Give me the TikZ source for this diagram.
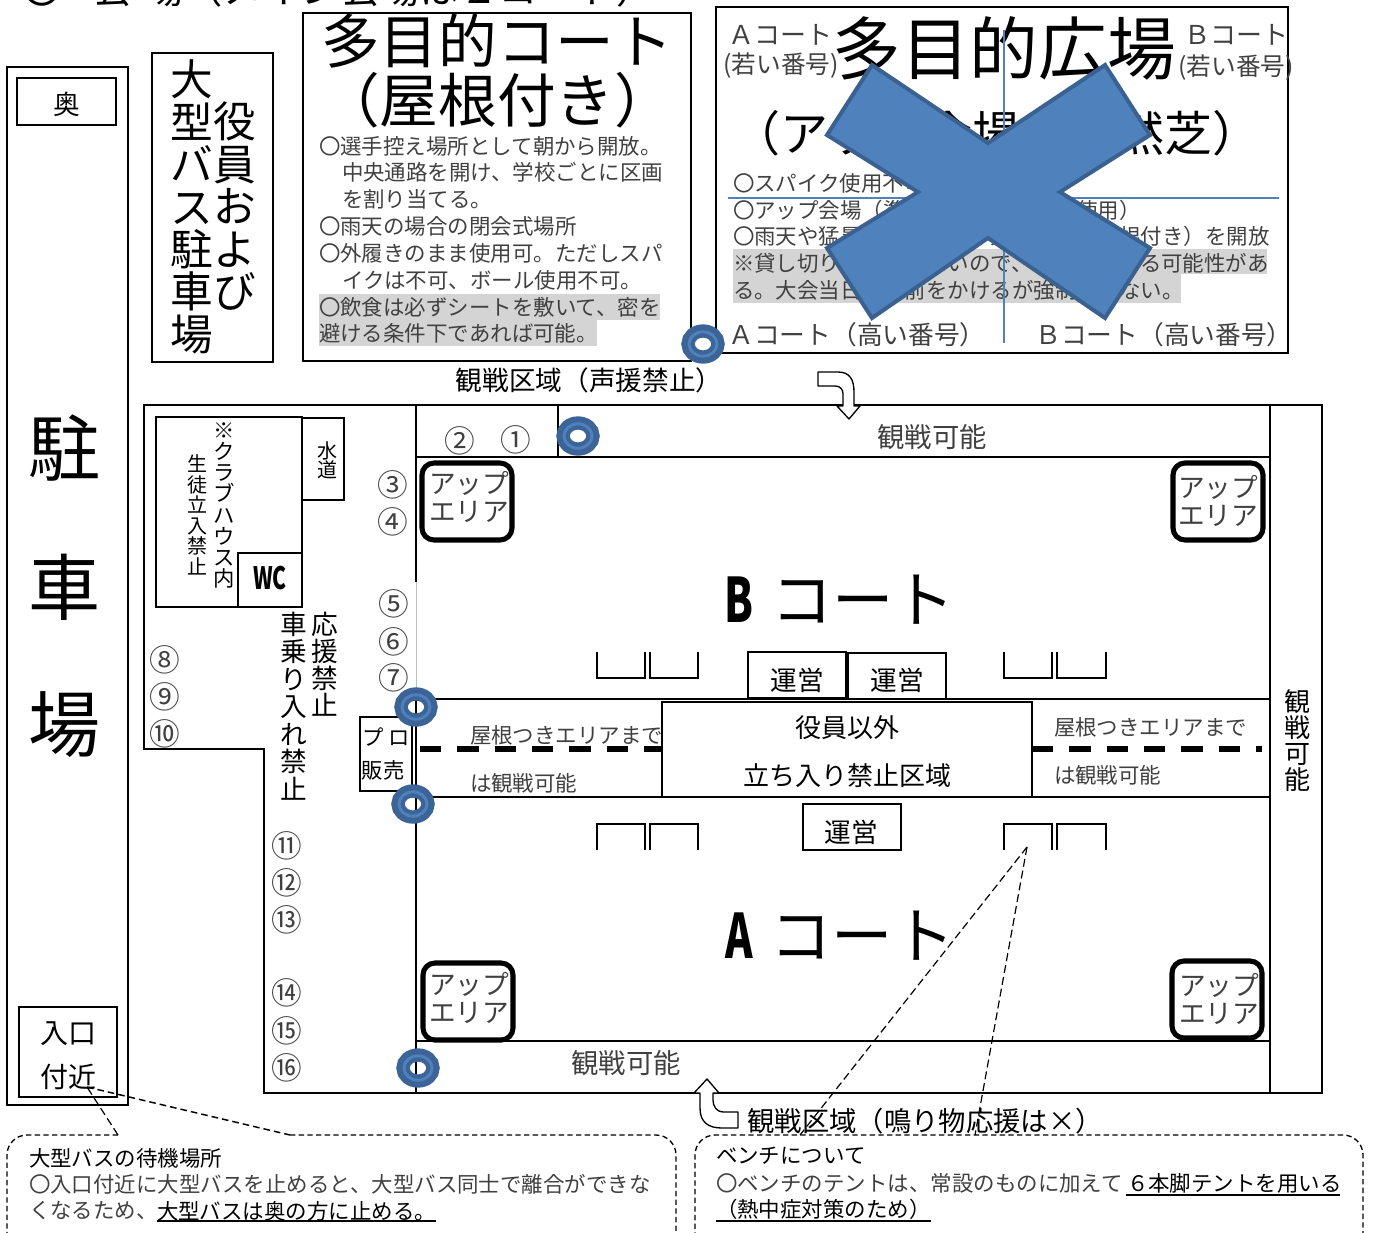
\documentclass[tikz,border=0pt]{standalone}
\usepackage{fontspec}
\usetikzlibrary{arrows.meta}
\setmainfont{Noto Sans CJK JP}
\newcommand{\fs}[1]{\fontsize{#1}{#1}\selectfont}
\newcommand{\vstack}[2]{\fontsize{#1}{#2}\selectfont}
\definecolor{ringout}{HTML}{3C6496}
\definecolor{ringin}{HTML}{4F81BD}
\definecolor{crossb}{HTML}{3A6190}
\definecolor{hlgray}{HTML}{D4D4D4}
\tikzset{
  x=0.75pt,y=-0.75pt,
  lab/.style={inner sep=0pt,outer sep=0pt,text=black},
  lablight/.style={lab,text=black!75},
  box/.style={draw=black,line width=1.5pt,fill=white,inner sep=0pt},
  wall/.style={draw=black,line width=1.5pt},
  thin wall/.style={draw=black,line width=1.1pt},
  uparea/.style={draw=black,line width=3.8pt,rounded corners=9pt},
  bench/.style={draw=black,line width=1.1pt},
  dashline/.style={draw=black,line width=0.9pt,dash pattern=on 6pt off 3pt},
  calloutbox/.style={draw=black,line width=1pt,dash pattern=on 4pt off 2.5pt,rounded corners=15pt},
  bigdash/.style={draw=black,line width=3.8pt,dash pattern=on 16pt off 12pt},
  block/.style={draw=black,fill=white,line width=1pt,line join=round},
}
\begin{document}
\begin{tikzpicture}
\useasboundingbox (0,0) rectangle (1376,1232);
\newcommand{\ringat}[2]{%
  \path[draw=ringout,line width=10pt] (#1,#2) ellipse [x radius=15,y radius=13];
  \path[draw=ringin,line width=2.2pt] (#1,#2) ellipse [x radius=14,y radius=12.2];
}
% top clipped title
\node[lab,anchor=west,font=\fs{29.5}] (title) at (22,-11) {〇\hspace{24pt}会\hspace{9pt}場（メイン会場は２コート）};
% parking
\draw[wall] (7,67) rectangle (128,1105);
\node[box,minimum width=74.25pt,minimum height=35pt] (okubox) at (66.5,101.5) {};
\node[lab,font=\fs{20}] (oku) at (67,104) {奥};
\node[lab,font=\fs{54}] (p1) at (64,448) {駐};
\node[lab,font=\fs{54}] (p2) at (64,587) {車};
\node[lab,font=\fs{54}] (p3) at (64,725) {場};
\node[box,minimum width=73.5pt,minimum height=67.5pt] (iri) at (68,1052) {};
\node[lab,font=\fs{21}] (iri1) at (68,1034) {入口};
\node[lab,font=\fs{21}] (iri2) at (68,1077) {付近};
% bus
\draw[wall] (152,53) rectangle (273,362);
\node[lab,font=\vstack{32}{31.8},align=center,anchor=north] (busa) at (192,60) {大\\型\\バ\\ス\\駐\\車\\場};
\node[lab,font=\vstack{32}{31.8},align=center,anchor=north] (busb) at (235,102) {役\\員\\お\\よ\\び};
% court box
\draw[wall] (303,13) rectangle (691,361);
\node[lab,font=\fs{44}] (mc1) at (497,41) {多目的コート};
\node[lab,font=\fs{44}] (mc2) at (497,100) {（屋根付き）};
\fill[hlgray] (319,294) rectangle (660,320);
\fill[hlgray] (319,320) rectangle (597,346);
\node[lablight,anchor=west,font=\fs{16.1}] (t1) at (319,146) {〇選手控え場所として朝から開放。};
\node[lablight,anchor=west,font=\fs{16.1}] (t2) at (342,172) {中央通路を開け、学校ごとに区画};
\node[lablight,anchor=west,font=\fs{16.1}] (t3) at (342,199) {を割り当てる。};
\node[lablight,anchor=west,font=\fs{16.1}] (t4) at (319,226) {〇雨天の場合の閉会式場所};
\node[lablight,anchor=west,font=\fs{16.1}] (t5) at (319,253) {〇外履きのまま使用可。ただしスパ};
\node[lablight,anchor=west,font=\fs{16.1}] (t6) at (342,280) {イクは不可、ボール使用不可。};
\node[lablight,anchor=west,font=\fs{16.1}] (t7) at (319,307) {〇飲食は必ずシートを敷いて、密を};
\node[lablight,anchor=west,font=\fs{16.1}] (t8) at (319,333) {避ける条件下であれば可能。};
% plaza
\draw[wall] (716,7) rectangle (1288,353);
\fill[hlgray] (733,249) rectangle (1267,274);
\fill[hlgray] (733,274) rectangle (1181,303);
\node[lab,font=\fs{51.5}] (pl1) at (1004,48) {多目的広場};
\node[lab,font=\fs{36}] (pl2) at (996,133) {（アップ会場・天然芝）};
\node[lablight,font=\fs{19.5}] (pa1) at (780,35) {Ａコート};
\node[lablight,font=\fs{18.5}] (pa2) at (781,66) {(若い番号)};
\node[lablight,font=\fs{19.5}] (pb1) at (1236,35) {Ｂコート};
\node[lablight,font=\fs{18.5}] (pb2) at (1236,68) {(若い番号)};
\node[lablight,anchor=west,font=\fs{16.1}] (q1) at (733,183) {〇スパイク使用不可};
\node[lablight,anchor=west,font=\fs{16.1}] (q2) at (733,210) {〇アップ会場（準備運動などのみに使用）};
\node[lablight,anchor=west,font=\fs{16.1}] (q3) at (733,236) {〇雨天や猛暑の場合には、第１会場（屋根付き）を開放};
\node[lablight,anchor=west,font=\fs{16.1}] (q4) at (733,263) {※貸し切りにはならないので、他の人がいる可能性があ};
\node[lablight,anchor=west,font=\fs{16.1}] (q5) at (733,290) {る。大会当日は名前をかけるが強制ではない。};
\node[lablight,font=\fs{19.3}] (pc1) at (857,335) {Ａコート（高い番号）};
\node[lablight,font=\fs{19.3}] (pc2) at (1164,335) {Ｂコート（高い番号）};
\coordinate (vt) at (1004,30); \coordinate (vb) at (1004,343);
\coordinate (hl) at (728,198); \coordinate (hr) at (1279,198);
\draw[ringin,line width=1pt] (vt) -- (vb);
\draw[ringin,line width=1pt] (hl) -- (hr);
% cross
\draw[crossb,fill=ringin,line width=3pt,line join=miter]
 (872,65)--(988,143)--(1105,65)--(1150,135)--(1060,192)--(1150,248)--(1105,318)--(988,238)--(872,318)--(827,248)--(918,192)--(827,135)--cycle;
% main field
\draw[wall] (144,405) -- (1322,405) -- (1322,1093) -- (264,1093) -- (264,749) -- (144,749) -- cycle;
\draw[wall] (416,405) -- (416,582);
\draw[black!25,line width=0.6pt] (416,582) -- (416,700);
\draw[wall] (416,700) -- (416,1093);
\draw[wall] (1270,405) -- (1270,1093);
\draw[thin wall] (416,457) -- (1270,457);
\draw[thin wall] (558,405) -- (558,457);
\draw[thin wall] (416,699) -- (1270,699);
\draw[wall] (416,797) -- (1270,797);
\draw[wall] (416,1041) -- (1270,1041);
\node[lablight,font=\fs{20.5}] (kan1) at (932,437) {観戦可能};
\node[lablight,font=\fs{20.5}] (kan2) at (626,1063) {観戦可能};
\node[lab,font=\vstack{19.5}{19.5},align=center] (kan3) at (1297,741) {観\\戦\\可\\能};
\node[lab,font=\fs{20}] (sen1) at (589,380) {観戦区域（声援禁止）};
\node[lab,font=\fs{20.5}] (sen2) at (925,1121) {観戦区域（鳴り物応援は×）};
% clubhouse
\draw[wall] (156,417) rectangle (302,607);
\draw[wall] (302,418) rectangle (344,500);
\node[lab,font=\vstack{15}{14},align=center] (sui) at (327,460) {水\\道};
\draw[wall] (238,553) rectangle (302,607);
\node[lab,font=\fs{21}] (wc) at (270,578) {\scalebox{.75}[1.1]{\bfseries WC}};
\node[lab,font=\vstack{16}{15.8},align=center,anchor=north] (cl1) at (224,423) {※\\ク\\ラ\\ブ\\ハ\\ウ\\ス\\内};
\node[lab,font=\vstack{15}{15.4},align=center,anchor=north] (cl2) at (197,455) {生\\徒\\立\\入\\禁\\止};
\node[lab,font=\vstack{20}{20.3},align=center,anchor=north] (n1) at (325,612) {応\\援\\禁\\止};
\node[lab,font=\vstack{20}{20.6},align=center,anchor=north] (n2) at (294,612) {車\\乗\\り\\入\\れ\\禁\\止};
% numbers
\foreach \n/\s/\xx/\yy in {a/①/516/440,b/②/460/441,c/③/393/485,d/④/393/522,e/⑤/394/604,f/⑥/394/642,g/⑦/394/678,h/⑧/165/660,i/⑨/165/697,j/⑩/165/734,k/⑪/287/846,l/⑫/287/883,m/⑬/287/920,o/⑭/287/993,p/⑮/287/1031,q/⑯/287/1068}
  \node[lablight,font=\fs{23}] (num\n) at (\xx,\yy) {\s};
% uparea
\draw[uparea] (422,463) rectangle (512,540);
\node[lablight,font=\vstack{20}{21.5},align=center] (u1) at (469,497) {アップ\\エリア};
\draw[uparea] (1173,463) rectangle (1263,540);
\node[lablight,font=\vstack{20}{21.5},align=center] (u2) at (1218,501) {アップ\\エリア};
\draw[uparea] (423,963) rectangle (513,1040);
\node[lablight,font=\vstack{20}{21.5},align=center] (u3) at (469,998) {アップ\\エリア};
\draw[uparea] (1172,961) rectangle (1262,1038);
\node[lablight,font=\vstack{20}{21.5},align=center] (u4) at (1219,999) {アップ\\エリア};
\node[lab,font=\fs{46}] (cb) at (840,600) {\scalebox{.68}[1]{\bfseries B}\hspace{13pt}コート};
\node[lab,font=\fs{46}] (ca) at (840,936) {\scalebox{.68}[1]{\bfseries A}\hspace{13pt}コート};
% benches
\draw[bench] (597,652)--(597,678)--(645,678)--(645,652);
\draw[bench] (650,652)--(650,678)--(698,678)--(698,652);
\draw[bench] (1004,652)--(1004,678)--(1052,678)--(1052,652);
\draw[bench] (1057,652)--(1057,678)--(1106,678)--(1106,652);
\draw[bench] (597,850)--(597,824)--(645,824)--(645,850);
\draw[bench] (650,850)--(650,824)--(698,824)--(698,850);
\draw[bench] (1004,850)--(1004,824)--(1052,824)--(1052,850);
\draw[bench] (1057,850)--(1057,824)--(1106,824)--(1106,850);
\draw[wall] (748,652) rectangle (846,698);
\draw[wall] (848,653) rectangle (946,699);
\draw[wall] (803,804) rectangle (901,850);
\node[lab,font=\fs{20}] (un1) at (797,680) {運営};
\node[lab,font=\fs{20}] (un2) at (897,680) {運営};
\node[lab,font=\fs{20}] (un3) at (851,832) {運営};
% central
\draw[bigdash] (420,749) -- (662,749);
\draw[bigdash] (1032,749) -- (1262,749);
\draw[wall] (662,702) rectangle (1032,797);
\node[lab,font=\fs{19.5}] (c1) at (847,728) {役員以外};
\node[lab,font=\fs{19.5}] (c2) at (847,776) {立ち入り禁止区域};
\node[lablight,anchor=west,font=\fs{16.1}] (r1) at (470,735) {屋根つきエリアまで};
\node[lablight,anchor=west,font=\fs{16.1}] (r2) at (470,783) {は観戦可能};
\node[lablight,anchor=west,font=\fs{16.1}] (r3) at (1054,727) {屋根つきエリアまで};
\node[lablight,anchor=west,font=\fs{16.1}] (r4) at (1054,775) {は観戦可能};
% pro
\draw[wall] (360,717) rectangle (412,791);
\node[lab,font=\fs{16}] (pr1) at (386,737) {プ ロ};
\node[lab,font=\fs{16}] (pr2) at (383,770) {販売};
% rings
\ringat{703}{344}
\ringat{578}{436}
\ringat{416}{707}
\ringat{413}{804}
\ringat{418}{1068}
% arrows
\draw[block] (818,372)--(838,372) .. controls (850,372) and (854,380) .. (854,392) -- (854,406) -- (860,406) -- (849,419) -- (837,406) -- (843,406) -- (843,394) .. controls (843,389) and (840,386) .. (835,386) -- (818,386) -- cycle;
\draw[block] (738,1112)--(724,1112) .. controls (716,1112) and (713,1106) .. (713,1100) -- (713,1093) -- (719,1093) -- (707,1079) -- (694,1093) -- (700,1093) -- (700,1108) .. controls (700,1122) and (708,1128) .. (722,1128) -- (738,1128) -- cycle;
% callouts
\coordinate (lbA) at (118,1135); \coordinate (lbB) at (290,1135);
\coordinate (tip) at (87,1087);
\draw[calloutbox] (lbA) -- (7,1135) -- (7,1245);
\draw[calloutbox] (lbB) -- (676,1135) -- (676,1245);
\draw[dashline] (lbA) -- (tip);
\draw[dashline,dash pattern=on 5pt off 3pt,line width=1.1pt] (tip) -- (lbB);
\draw[calloutbox] (1363,1245) -- (1363,1135) -- (695,1135) -- (695,1245);
\coordinate (bt) at (1027,847);
\coordinate (bA) at (800,1135); \coordinate (bB) at (975,1135);
\draw[dashline] (bt) -- (bA);
\draw[dashline] (bt) -- (bB);
\node[lab,anchor=west,font=\fs{16.1}] (d1) at (29,1158) {大型バスの待機場所};
\node[lablight,anchor=west,font=\fs{16.1}] (d2) at (29,1184) {〇入口付近に大型バスを止めると、大型バス同士で離合ができな};
\node[lablight,anchor=west,font=\fs{16.1}] (d3) at (29,1211) {くなるため、};
\node[lab,anchor=west,font=\fs{16.1}] (d4) at (157,1211) {大型バスは奥の方に止める。};
\coordinate (ua) at (157,1221); \coordinate (ub) at (436,1221);
\draw[black,line width=0.9pt] (ua) -- (ub);
\node[lab,anchor=west,font=\fs{16.1}] (e1) at (716,1156) {ベンチについて};
\node[lablight,anchor=west,font=\fs{16.1}] (e2) at (716,1183) {〇ベンチのテントは、常設のものに加えて};
\node[lab,anchor=west,font=\fs{16.1}] (e3) at (1127,1183) {６本脚テントを用いる};
\node[lab,anchor=west,font=\fs{16.1}] (e4) at (716,1209) {（熱中症対策のため）};
\coordinate (uc) at (1126,1195); \coordinate (ud) at (1340,1195);
\coordinate (ue) at (716,1221); \coordinate (uf) at (931,1221);
\draw[black,line width=0.9pt] (uc) -- (ud);
\draw[black,line width=0.9pt] (ue) -- (uf);
\end{tikzpicture}
\end{document}
